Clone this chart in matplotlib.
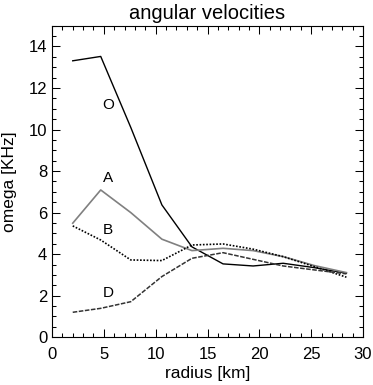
import matplotlib
matplotlib.use("Agg")
import matplotlib.pyplot as plt
import matplotlib.transforms as mtransforms
from matplotlib.ticker import MultipleLocator

plt.rcParams['font.family'] = ['Liberation Sans', 'DejaVu Sans']

# radius grid [km]
radius = [2.0, 4.7, 7.6, 10.6, 13.5, 16.5, 19.4, 22.3, 25.3, 28.4]

# angular velocity curves [KHz]
omega_O = [13.31, 13.52, 10.1, 6.37, 4.35, 3.53, 3.43, 3.56, 3.35, 3.08]
omega_A = [5.49, 7.09, 6.0, 4.72, 4.17, 4.28, 4.17, 3.88, 3.45, 3.11]
omega_B = [5.36, 4.68, 3.72, 3.69, 4.44, 4.49, 4.24, 3.88, 3.40, 2.89]
omega_D = [1.20, 1.39, 1.71, 2.92, 3.80, 4.07, 3.75, 3.43, 3.24, 3.05]

labels = ['O', 'A', 'B', 'D']
label_x = [5.43, 5.43, 5.43, 5.43]
label_y = [11.19, 7.66, 5.17, 2.15]

fig = plt.figure(figsize=(3.73, 3.85), dpi=100)
ax = fig.add_axes([52/373, 1 - 337.2/385, (363 - 52)/373, (337.2 - 25.7)/385])

ax.plot(radius, omega_O, color='black', lw=1.0)
ax.plot(radius, omega_A, color='#808080', lw=1.2)
ax.plot(radius, omega_B, color='black', lw=1.2, linestyle=(0, (1, 1)))
ax.plot(radius, omega_D, color='#333333', lw=1.1, linestyle=(0, (3, 1)))

for lab, lx, ly in zip(labels, label_x, label_y):
    ax.text(lx, ly, lab, fontsize=11, ha='center', va='center')

ax.set_xlim(0, 30)
ax.set_ylim(0, 15)
ax.xaxis.set_major_locator(MultipleLocator(5))
ax.xaxis.set_minor_locator(MultipleLocator(1))
ax.yaxis.set_major_locator(MultipleLocator(2))
ax.yaxis.set_minor_locator(MultipleLocator(0.5))
ax.tick_params(which='both', direction='in', top=True, right=True,
               width=0.75, labelsize=12)
ax.tick_params(which='major', length=5.8)
ax.tick_params(which='minor', length=3)
ax.tick_params(axis='y', pad=3.5)
ax.tick_params(axis='x', pad=7)
for sp in ax.spines.values():
    sp.set_linewidth(0.8)

ax.set_title('angular velocities', fontsize=14.5, pad=5)
ax.set_xlabel('radius [km]', fontsize=12.5)
ax.set_ylabel('omega [KHz]', fontsize=12.5)
ax.xaxis.set_label_coords(0.5, -0.094)
ax.yaxis.set_label_coords(-0.112, 0.5)

# bottom y label sits a little above the axis corner
fig.canvas.draw()
ylabs = ax.get_yticklabels()
shift = mtransforms.ScaledTranslation(0, 5/100, fig.dpi_scale_trans)
ylabs[0].set_transform(ylabs[0].get_transform() + shift)

fig.savefig('out.png', dpi=100)
